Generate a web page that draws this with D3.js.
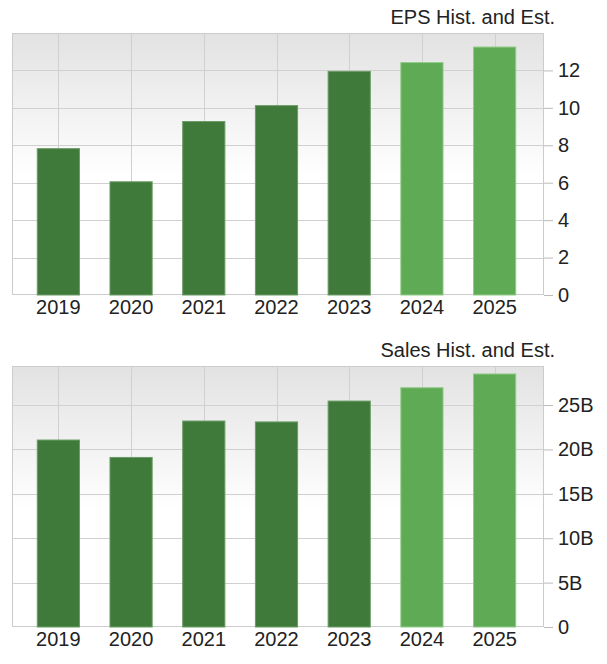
<!DOCTYPE html>
<html>
<head>
<meta charset="utf-8">
<script src="https://cdn.jsdelivr.net/npm/d3@7"></script>
<style>
  body { margin: 0; background: #fff; }
  text { font-family: "Liberation Sans", Arial, sans-serif; fill: #222; }
</style>
</head>
<body>
<svg id="chart" width="607" height="664"></svg>
<script>
const years = ["2019", "2020", "2021", "2022", "2023", "2024", "2025"];
const isEstimate = [false, false, false, false, false, true, true];
const epsValues = [7.82, 6.05, 9.27, 10.12, 11.95, 12.42, 13.25];
const salesValues = [21.06, 19.1, 23.2, 23.1, 25.45, 26.95, 28.5]; // billions
const epsTicks = [0, 2, 4, 6, 8, 10, 12];
const salesTicks = [0, 5, 10, 15, 20, 25];

const svg = d3.select('#chart');

const defs = svg.append('defs');
const grad = defs.append('linearGradient')
  .attr('id', 'bg').attr('x1', 0).attr('y1', 0).attr('x2', 0).attr('y2', 1);
grad.append('stop').attr('offset', '0%').attr('stop-color', '#e2e2e2');
grad.append('stop').attr('offset', '55%').attr('stop-color', '#ffffff');
grad.append('stop').attr('offset', '100%').attr('stop-color', '#ffffff');

function drawPanel(opts) {
  const left = 12, right = 544;
  const top = opts.top, bottom = opts.bottom;
  const g = svg.append('g');

  const x = d3.scaleBand().domain(years).range([22, 531]).paddingInner(0.42).paddingOuter(0.21);
  const y = d3.scaleLinear().domain([0, opts.max]).range([bottom, top]);

  g.append('rect')
    .attr('x', left).attr('y', top)
    .attr('width', right - left).attr('height', bottom - top)
    .attr('fill', 'url(#bg)');

  // horizontal grid
  g.selectAll('.hgrid').data(opts.ticks.filter(t => t > 0)).join('line')
    .attr('x1', left).attr('x2', right)
    .attr('y1', d => Math.round(y(d)) + 0.5).attr('y2', d => Math.round(y(d)) + 0.5)
    .attr('stroke', '#d0d0d0');

  // vertical grid at bar centres
  g.selectAll('.vgrid').data(years).join('line')
    .attr('x1', d => Math.round(x(d) + x.bandwidth() / 2) + 0.5)
    .attr('x2', d => Math.round(x(d) + x.bandwidth() / 2) + 0.5)
    .attr('y1', top).attr('y2', bottom)
    .attr('stroke', '#d0d0d0');

  g.append('rect')
    .attr('x', left + 0.5).attr('y', top + 0.5)
    .attr('width', right - left - 1).attr('height', bottom - top - 1)
    .attr('fill', 'none').attr('stroke', '#cccccc');

  g.selectAll('.bar').data(opts.values).join('rect')
    .attr('x', (d, i) => x(years[i]))
    .attr('y', d => y(d))
    .attr('width', x.bandwidth())
    .attr('height', d => bottom - y(d))
    .attr('fill', (d, i) => isEstimate[i] ? '#5eaa55' : '#3f7a3a')
    .attr('stroke', (d, i) => isEstimate[i] ? '#8fcc86' : '#6a9c64')
    .attr('stroke-width', 1);

  const yAxis = d3.axisRight(y)
    .tickValues(opts.ticks)
    .tickSize(9)
    .tickPadding(5)
    .tickFormat(opts.format);
  const ya = g.append('g')
    .attr('transform', `translate(${right},0)`)
    .call(yAxis);
  ya.select('.domain').remove();
  ya.selectAll('.tick line').attr('stroke', '#bbbbbb');
  ya.selectAll('.tick text').attr('font-size', 20).attr('fill', '#222')
    .attr('font-family', '"Liberation Sans", Arial, sans-serif');

  g.selectAll('.xlab').data(years).join('text')
    .attr('x', d => x(d) + x.bandwidth() / 2)
    .attr('y', bottom + 19)
    .attr('text-anchor', 'middle')
    .attr('font-size', 20)
    .text(d => d);

  g.append('text')
    .attr('x', 555).attr('y', top - 9)
    .attr('text-anchor', 'end')
    .attr('font-size', 20)
    .text(opts.title);
}

drawPanel({
  top: 33, bottom: 295, max: 14, values: epsValues, ticks: epsTicks,
  format: d => d, title: 'EPS Hist. and Est.'
});
drawPanel({
  top: 366, bottom: 627, max: 29.4, values: salesValues, ticks: salesTicks,
  format: d => d === 0 ? '0' : d + 'B', title: 'Sales Hist. and Est.'
});
</script>
</body>
</html>
